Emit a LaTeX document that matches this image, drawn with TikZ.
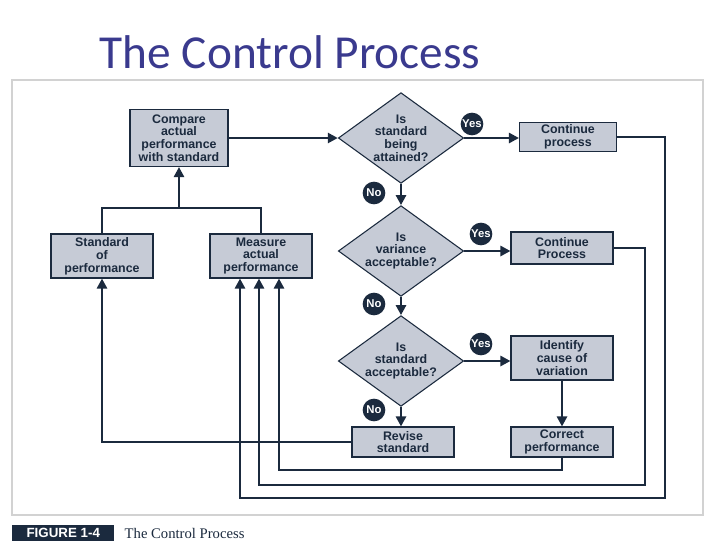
\documentclass[tikz,border=0pt]{standalone}
\usepackage{fontspec}
\setmainfont{Liberation Sans}
\newfontfamily\titlef{Carlito}
\newfontfamily\capf{Liberation Serif}
\usetikzlibrary{shapes.geometric,arrows.meta}
\definecolor{ink}{HTML}{1B2A3E}
\definecolor{boxc}{HTML}{C6CBD6}
\definecolor{titc}{HTML}{3A3A8E}
\begin{document}
\begin{tikzpicture}[x=0.75pt,y=-0.75pt,
  box/.style={draw=ink,line width=0.8pt,fill=boxc,font=\bfseries\fontsize{9.3}{9.6}\selectfont,text=ink,align=center,inner sep=0pt},
  dia/.style={diamond,draw=ink,line width=0.8pt,fill=boxc,font=\bfseries\fontsize{9.3}{9.6}\selectfont,text=ink,align=center,aspect=1.3,minimum width=94pt,minimum height=68pt,inner sep=-8pt},
  lab/.style={circle,fill=ink,text=white,font=\bfseries\fontsize{8.5}{9}\selectfont,minimum size=17pt,inner sep=0pt},
  ln/.style={draw=ink,line width=2.1pt},
  ar/.style={ln,-{Triangle[length=7.5pt,width=7.5pt]}}]
\useasboundingbox (0,0) rectangle (720,540);
\fill[white] (0,0) rectangle (720,540);
\node[titc,font=\titlef\fontsize{35.5}{38}\selectfont,anchor=west] (title) at (95,52) {The Control Process};
\draw[gray!35,line width=1.2pt] (12,80) rectangle (703,515);
% boxes
\node[box,minimum width=73.5pt,minimum height=42.75pt] (cmp) at (179,138) {Compare\\actual\\performance\\with standard};
\node[box,minimum width=76.5pt,minimum height=33pt] (std) at (102,256) {Standard\\of\\performance};
\node[box,minimum width=76.5pt,minimum height=33pt] (mea) at (261,256) {Measure\\actual\\performance};
\node[dia] (d1) at (401,138) {Is\\standard\\being\\attained?};
\node[dia] (d2) at (401,251) {Is\\variance\\acceptable?};
\node[dia] (d3) at (401,361) {Is\\standard\\acceptable?};
\node[box,minimum width=72.75pt,minimum height=21.75pt] (c1) at (568,137) {Continue\\process};
\node[box,minimum width=76.5pt,minimum height=24pt] (c2) at (562,248) {Continue\\Process};
\node[box,minimum width=76.5pt,minimum height=33pt] (idf) at (562,358) {Identify\\cause of\\variation};
\node[box,minimum width=76.5pt,minimum height=22.5pt] (rev) at (403,442) {Revise\\standard};
\node[box,minimum width=76.5pt,minimum height=22.5pt] (cor) at (562,442) {Correct\\performance};
\node[lab] (y1) at (472,124) {Yes};
\node[lab] (y2) at (481,234) {Yes};
\node[lab] (y3) at (481,344) {Yes};
\node[lab] (n1) at (374,193) {No};
\node[lab] (n2) at (374,304) {No};
\node[lab] (n3) at (374,410) {No};
% connectors
\coordinate (j) at (179,208);
\draw[ln] (std.north) |- (j) -| (mea.north);
\draw[ar] (j) -- (cmp.south);
\draw[ar] (cmp.east) -- (d1.west);
\draw[ar] (d1.east) -- (d1.east -| c1.west);
\draw[ar] (d1.south) -- (d2.north);
\draw[ar] (d2.south) -- (d3.north);
\draw[ar] (d3.south) -- (d3.south |- rev.north);
\draw[ar] (d2.east) -- (d2.east -| c2.west);
\draw[ar] (d3.east) -- (d3.east -| idf.west);
\draw[ar] (idf.south) -- (cor.north);
\draw[ar] (rev.west) -| (std.south);
\draw[ar] (cor.south) |- (279,470) -- (mea.south -| 279,0);
\draw[ar] (c2.east) -| (645,485) -| (mea.south -| 259,0);
\draw[ar] (c1.east) -| (665,498) -| (mea.south -| 240,0);
% caption
\node[fill=ink,text=white,font=\bfseries\fontsize{10}{11}\selectfont,minimum width=76.5pt,minimum height=12pt,inner sep=0pt,anchor=west] (fig) at (12,533) {FIGURE 1-4};
\node[anchor=west,font=\capf\fontsize{11}{12}\selectfont,text=ink] (cap) at (120,533) {The Control Process};
\end{tikzpicture}
\end{document}
